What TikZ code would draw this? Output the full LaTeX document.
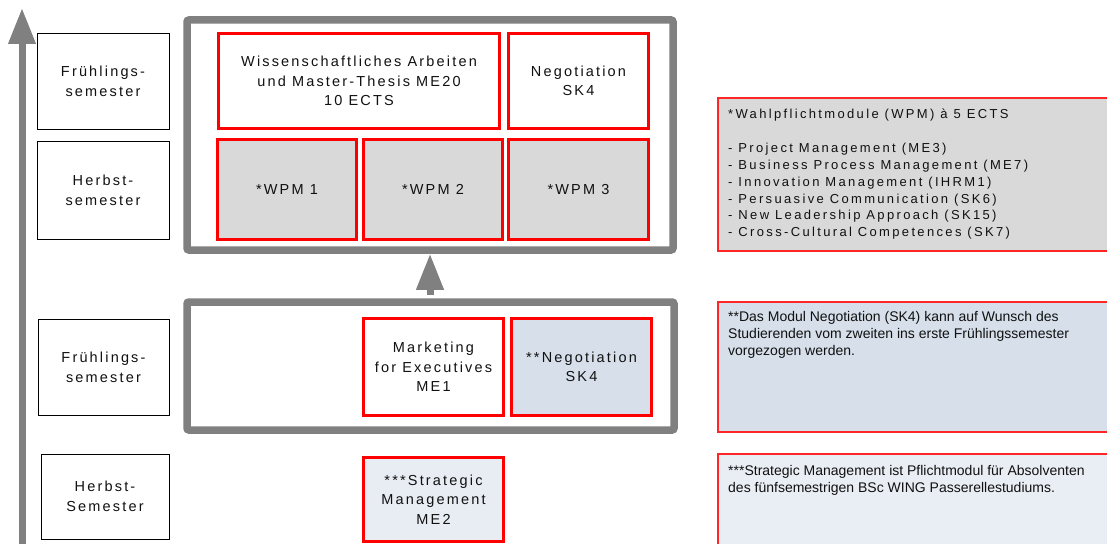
\documentclass[tikz,border=0pt]{standalone}
\usepackage{fontspec}
\setmainfont{Liberation Sans}
\newfontfamily\spaced[LetterSpace=15]{Liberation Sans}
\newfontfamily\spacedb[LetterSpace=18]{Liberation Sans}
\usetikzlibrary{arrows.meta}
\definecolor{frameGray}{HTML}{808080}
\definecolor{wpmGray}{HTML}{D9D9D9}
\definecolor{negBlue}{HTML}{D6DFEA}
\definecolor{stratBlue}{HTML}{E8EDF4}
\definecolor{noteBlue}{HTML}{D6DFEA}
\definecolor{noteLight}{HTML}{E9EDF4}
\definecolor{txt}{HTML}{111111}
\tikzset{
  frame/.style={draw=frameGray, line width=7.5pt, rounded corners=2pt, inner sep=0pt},
  modbox/.style={draw=red, line width=2.2pt, inner sep=0pt, align=center, text=txt,
    font=\spaced\fontsize{14.5}{19.5}\selectfont},
  sembox/.style={draw=black, line width=0.9pt, inner sep=0pt, align=center, text=txt,
    font=\spaced\fontsize{14.5}{20}\selectfont},
  notebox/.style={draw=red!85!white, line width=1.2pt},
  bigarrow/.style={draw=frameGray, line width=7pt, -{Triangle[width=26pt,length=36pt]}, color=frameGray},
}
\begin{document}
\begin{tikzpicture}[x=1pt,y=-1pt]
\clip (0,0) rectangle (1107,543);
\fill[white] (0,0) rectangle (1107,543);

% timeline arrow
\coordinate (tlbot) at (22,545);
\coordinate (tltop) at (22,8);
\draw[bigarrow] (tlbot) -- (tltop);

% semester labels
\node[sembox, minimum width=132pt, minimum height=96pt] (s1) at (103,81) {Frühlings-\\semester};
\node[sembox, minimum width=132pt, minimum height=98pt] (s2) at (103,190) {Herbst-\\semester};
\node[sembox, minimum width=131pt, minimum height=96pt] (s3) at (103.5,367) {Frühlings-\\semester};
\node[sembox, minimum width=128pt, minimum height=85pt] (s4) at (105,496.5) {Herbst-\\Semester};

% frames
\node[frame, minimum width=486pt, minimum height=230pt] (top) at (430,135) {};
\node[frame, minimum width=487pt, minimum height=128pt] (mid) at (430.5,366) {};
\draw[bigarrow] (mid.north -| 430,0) ++(0,-3.5) coordinate (ms) (ms) -- (top.south -| 430,0);

% top modules
\node[modbox, minimum width=281pt, minimum height=95pt] (wiss) at (359,81) {Wissenschaftliches Arbeiten\\und Master-Thesis ME20\\10 ECTS};
\node[modbox, minimum width=140pt, minimum height=95pt] (negt) at (578.5,81) {Negotiation\\SK4};
\node[modbox, fill=wpmGray, minimum width=139pt, minimum height=100pt] (w1) at (287,189.5) {*WPM 1};
\node[modbox, fill=wpmGray, minimum width=139pt, minimum height=100pt] (w2) at (433,189.5) {*WPM 2};
\node[modbox, fill=wpmGray, minimum width=140pt, minimum height=100pt] (w3) at (578.5,189.5) {*WPM 3};

% middle modules
\node[modbox, minimum width=140pt, minimum height=97pt] (mkt) at (433.5,367) {Marketing\\for Executives\\ME1};
\node[modbox, fill=negBlue, minimum width=140pt, minimum height=97pt] (negm) at (581.5,367) {**Negotiation\\SK4};

% bottom module
\node[modbox, fill=stratBlue, minimum width=140pt, minimum height=84pt] (strat) at (433.5,499.5) {***Strategic\\Management\\ME2};

% notes
\draw[notebox, fill=wpmGray] (718,98) rectangle (1120,251);
\node[anchor=north west, inner sep=0pt, align=left, text=txt,
  font=\spacedb\fontsize{13}{16.7}\selectfont] (n1) at (728,109)
  {*Wahlpflichtmodule (WPM) à 5 ECTS\\[17.5pt]
   - Project Management (ME3)\\
   - Business Process Management (ME7)\\
   - Innovation Management (IHRM1)\\
   - Persuasive Communication (SK6)\\
   - New Leadership Approach (SK15)\\
   - Cross-Cultural Competences (SK7)};

\draw[notebox, fill=noteBlue] (718,302) rectangle (1120,432);
\node[anchor=north west, inner sep=0pt, align=left, text=txt,
  font=\fontsize{14}{17}\selectfont] (n2) at (728,311)
  {**Das Modul Negotiation (SK4) kann auf Wunsch des\\
   Studierenden vom zweiten ins erste Frühlingssemester\\
   vorgezogen werden.};

\draw[notebox, fill=noteLight] (718,454) rectangle (1120,560);
\node[anchor=north west, inner sep=0pt, align=left, text=txt,
  font=\fontsize{14}{17}\selectfont] (n3) at (728,465)
  {***Strategic Management ist Pflichtmodul für Absolventen\\
   des fünfsemestrigen BSc WING Passerellestudiums.};
\end{tikzpicture}
\end{document}
